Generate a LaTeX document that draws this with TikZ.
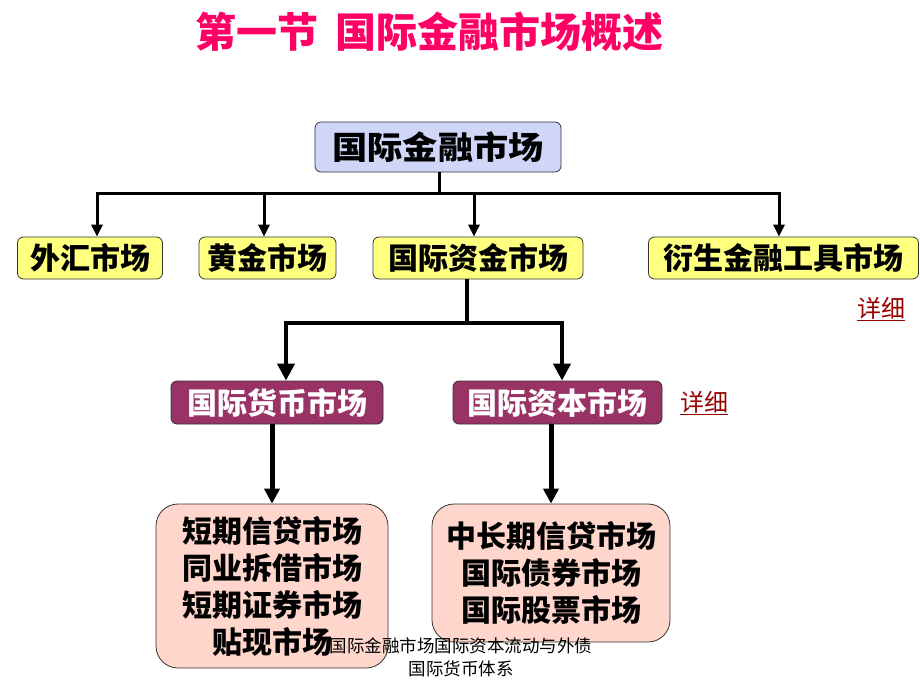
\documentclass[tikz,border=0pt]{standalone}
\usepackage{fontspec}
\newfontfamily\cjk{Noto Sans CJK SC}
\usetikzlibrary{arrows.meta}
\definecolor{titlered}{RGB}{255,0,102}
\definecolor{rootblue}{RGB}{208,214,248}
\definecolor{boxyellow}{RGB}{255,255,128}
\definecolor{boxmaroon}{RGB}{153,51,102}
\definecolor{boxpink}{RGB}{255,214,204}
\definecolor{linkred}{RGB}{153,0,0}
\tikzset{
	box/.style={draw=black!80,line width=0.8pt,rounded corners=6pt,inner sep=0pt,
		font=\cjk\bfseries\fontsize{30}{37}\selectfont},
	yellowbox/.style={box,fill=boxyellow,minimum height=42pt},
	maroonbox/.style={box,fill=boxmaroon,text=white,minimum height=43pt},
	pinkbox/.style={box,fill=boxpink,rounded corners=22pt,align=center},
	link/.style={font=\cjk\fontsize{24}{28}\selectfont,text=linkred,inner sep=0pt},
	arr1/.style={line width=3pt,-{Triangle[width=11pt,length=12pt]}},
	arr2/.style={line width=4pt,-{Triangle[width=17pt,length=17pt]}},
	arr3/.style={line width=5pt,-{Triangle[width=15pt,length=15pt]}}
}
\begin{document}
\begin{tikzpicture}[x=1pt,y=-1pt]
	\useasboundingbox (0,0) rectangle (920,690);
	\node[font=\cjk\bfseries\fontsize{41}{48}\selectfont,text=titlered] (title) at (429.5,32) {第一节\hspace{0.4em}国际金融市场概述};
	\node[box,fill=rootblue,minimum width=246pt,minimum height=50pt,font=\cjk\bfseries\fontsize{32}{38}\selectfont] (root) at (438,147) {\scalebox{1.1}[1]{国际金融市场}};
	\node[yellowbox,minimum width=145pt] (wh) at (90,258) {外汇市场};
	\node[yellowbox,minimum width=137pt] (hj) at (267.5,258) {黄金市场};
	\node[yellowbox,minimum width=210pt] (zj) at (478,258) {国际资金市场};
	\node[yellowbox,minimum width=270pt] (ys) at (783.5,258) {衍生金融工具市场};
	\node[link] (xx1) at (881,309) {\underline{详细}};
	\node[maroonbox,minimum width=212pt] (hb) at (277,402.5) {国际货币市场};
	\node[maroonbox,minimum width=209pt] (zb) at (557.5,402.5) {国际资本市场};
	\node[link] (xx2) at (704,403) {\underline{详细}};
	\node[pinkbox,minimum width=232pt,minimum height=164pt] (pl) at (272,586) {短期信贷市场\\同业拆借市场\\短期证券市场\\贴现市场};
	\node[pinkbox,minimum width=238pt,minimum height=138pt] (pr) at (551,573) {中长期信贷市场\\国际债券市场\\国际股票市场};
	\node[font=\cjk\fontsize{17.5}{23}\selectfont,align=center,inner sep=0pt] (foot) at (461,657) {国际金融市场国际资本流动与外债\\国际货币体系};
	\coordinate (bus1) at (439,193);
	\draw[line width=3pt] (root.south -| bus1)--(bus1);
	\draw[arr1] (bus1)-|([xshift=7pt]wh.north);
	\draw[arr1] (bus1)-|([xshift=-3.5pt]hj.north);
	\draw[arr1] (bus1)-|([xshift=-4pt]zj.north);
	\draw[arr1] (bus1)-|([xshift=-4.5pt]ys.north);
	\coordinate (bus2) at (467,323);
	\draw[line width=4pt] (zj.south -| bus2)--(bus2);
	\draw[arr2] (bus2)-|([xshift=9pt]hb.north);
	\draw[arr2] (bus2)-|([xshift=4.5pt]zb.north);
	\draw[arr3] (hb.south -| pl.north)--(pl.north);
	\draw[arr3] (zb.south -| pr.north)--(pr.north);
\end{tikzpicture}
\end{document}
